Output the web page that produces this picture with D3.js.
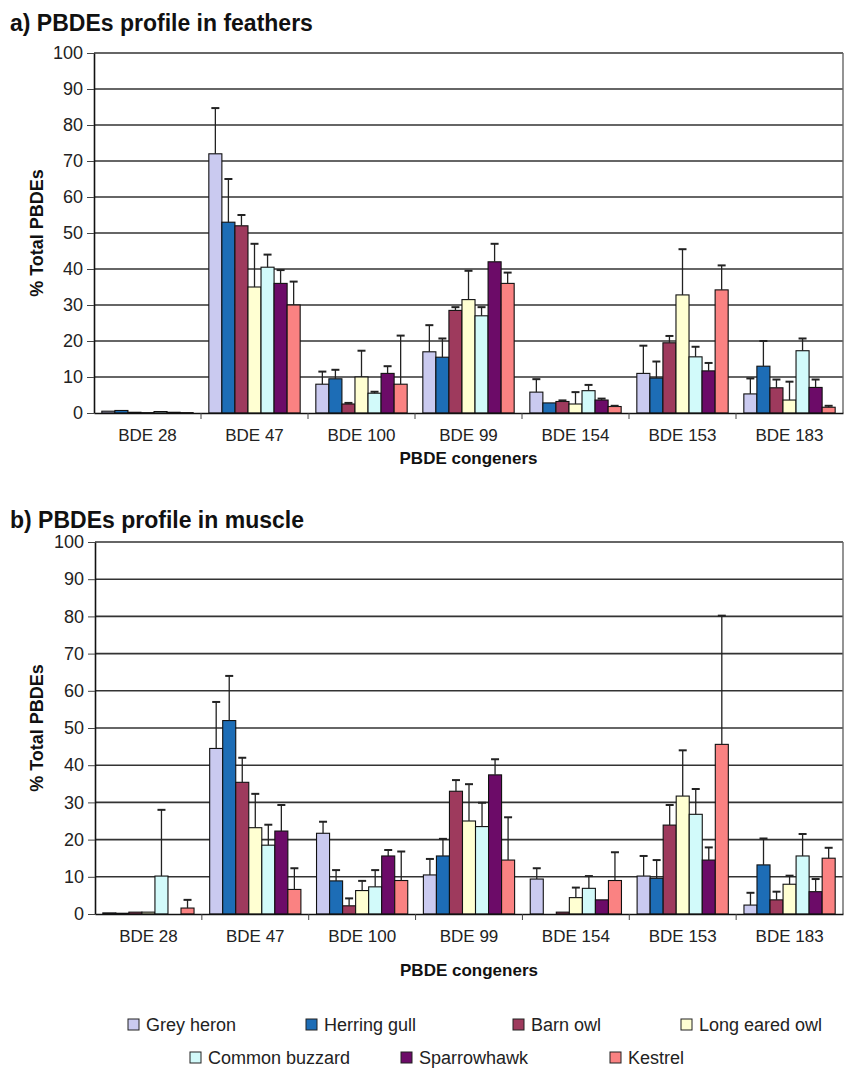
<!DOCTYPE html>
<html>
<head>
<meta charset="utf-8">
<script src="https://cdn.jsdelivr.net/npm/d3@7"></script>
<style>
  body { margin: 0; background: #fff; }
  svg { display: block; font-family: "Liberation Sans", Arial, sans-serif; }
</style>
</head>
<body>
<div id="chart"></div>
<script>
// congeners on the x axis, species are the bars in each group
var congeners = ["BDE 28", "BDE 47", "BDE 100", "BDE 99", "BDE 154", "BDE 153", "BDE 183"];
var species = ["Grey heron", "Herring gull", "Barn owl", "Long eared owl", "Common buzzard", "Sparrowhawk", "Kestrel"];
var yTicks = [0, 10, 20, 30, 40, 50, 60, 70, 80, 90, 100];

// a) feathers, one row per congener, one value per species (% total PBDEs)
var featherMean = [
    [0.5, 0.7, 0.2, 0.1, 0.4, 0.2, 0.1],
    [72, 53, 52, 35, 40.5, 36, 30],
    [8, 9.5, 2.5, 10, 5.5, 11, 8],
    [17, 15.5, 28.5, 31.5, 27, 42, 36],
    [5.8, 2.8, 3.2, 2.5, 6.2, 3.6, 1.8],
    [11, 9.7, 19.5, 32.8, 15.6, 11.7, 34.2],
    [5.3, 13, 7, 3.6, 17.3, 7.1, 1.6]
];
var featherErr = [
    [0, 0, 0, 0, 0, 0, 0],
    [12.7, 12, 3, 12, 3.5, 3.7, 6.5],
    [3.5, 2.5, 0.3, 7.3, 0.4, 2, 13.5],
    [7.4, 5.2, 0.9, 8, 2.4, 5, 3],
    [3.6, 0, 0.3, 3.3, 1.6, 0.4, 0.2],
    [7.7, 4.6, 1.9, 12.7, 2.8, 2.2, 6.8],
    [4.3, 7, 2.3, 5.1, 3.4, 2.2, 0.4]
];

// b) muscle
var muscleMean = [
    [0.3, 0.2, 0.5, 0.5, 10.2, 0, 1.6],
    [44.5, 52, 35.4, 23.2, 18.5, 22.3, 6.6],
    [21.7, 8.9, 2.2, 6.3, 7.3, 15.6, 9],
    [10.5, 15.6, 33, 25, 23.5, 37.4, 14.5],
    [9.4, 0, 0.5, 4.4, 6.9, 3.8, 9],
    [10.2, 9.6, 23.9, 31.7, 26.8, 14.5, 45.6],
    [2.4, 13.2, 3.8, 8, 15.6, 6, 15]
];
var muscleErr = [
    [0, 0, 0, 0, 17.8, 0, 2.2],
    [12.5, 12, 6.6, 9.1, 5.5, 7, 5.7],
    [3.1, 2.9, 2, 2.6, 4.5, 1.6, 7.8],
    [4.3, 4.6, 3, 9.9, 6.4, 4.2, 11.5],
    [2.9, 0, 0, 2.7, 3.3, 0, 7.6],
    [5.4, 4.9, 5.4, 12.3, 6.8, 3.4, 34.6],
    [3.3, 7.1, 2.2, 2.3, 5.9, 3.4, 2.8]
];

var colors = ["#cacaf0", "#1d6db6", "#9e3a5d", "#ffffd2", "#d2fafa", "#6c0b68", "#fa8282"];

var W = 844, H = 1068;
var svg = d3.select("#chart").append("svg")
    .attr("width", W)
    .attr("height", H);

var color = d3.scaleOrdinal().domain(species).range(colors);

function drawPanel(title, means, errs, box) {
    var g = svg.append("g");
    var x0 = d3.scaleBand().domain(congeners).range([box.left, box.right]);
    var x1 = d3.scaleBand().domain(species).range([0, x0.bandwidth()]).paddingOuter(0.6);
    var y = d3.scaleLinear().domain([0, 100]).range([box.bottom, box.top]);

    g.append("text")
        .attr("x", 10)
        .attr("y", box.titleY)
        .attr("font-size", 23)
        .attr("font-weight", "bold")
        .attr("fill", "#111")
        .text(title);

    // gridlines
    g.selectAll("line.grid")
        .data(yTicks.filter(function(t) { return t > 0; }))
        .enter().append("line")
        .attr("class", "grid")
        .attr("x1", box.left)
        .attr("x2", box.right)
        .attr("y1", function(d) { return y(d); })
        .attr("y2", function(d) { return y(d); })
        .attr("stroke", "#333")
        .attr("stroke-width", 1.6);
    g.append("line")
        .attr("x1", box.right).attr("x2", box.right)
        .attr("y1", box.top).attr("y2", box.bottom)
        .attr("stroke", "#666")
        .attr("stroke-width", 1.4);

    var groups = g.selectAll("g.grp")
        .data(congeners)
        .enter().append("g")
        .attr("class", "grp")
        .attr("transform", function(d) { return "translate(" + x0(d) + ",0)"; });

    groups.each(function(c, ci) {
        var rows = species.map(function(s, si) {
            return { s: s, v: means[ci][si], e: errs[ci][si] };
        });
        var sel = d3.select(this);
        sel.selectAll("rect")
            .data(rows)
            .enter().append("rect")
            .attr("x", function(d) { return x1(d.s); })
            .attr("y", function(d) { return y(d.v); })
            .attr("width", x1.bandwidth())
            .attr("height", function(d) { return y(0) - y(d.v); })
            .attr("fill", function(d) { return color(d.s); })
            .attr("stroke", "#111")
            .attr("stroke-width", 1.1);
        var eb = sel.selectAll("g.err")
            .data(rows.filter(function(d) { return d.e > 0; }))
            .enter().append("g")
            .attr("class", "err")
            .attr("stroke", "#222")
            .attr("stroke-width", 1.3);
        eb.append("line")
            .attr("x1", function(d) { return x1(d.s) + x1.bandwidth() / 2; })
            .attr("x2", function(d) { return x1(d.s) + x1.bandwidth() / 2; })
            .attr("y1", function(d) { return y(d.v); })
            .attr("y2", function(d) { return y(d.v + d.e); });
        eb.append("line")
            .attr("x1", function(d) { return x1(d.s) + x1.bandwidth() / 2 - 4; })
            .attr("x2", function(d) { return x1(d.s) + x1.bandwidth() / 2 + 4; })
            .attr("y1", function(d) { return y(d.v + d.e); })
            .attr("y2", function(d) { return y(d.v + d.e); })
            .attr("stroke-width", 2);
    });

    // y axis
    var yAxis = g.append("g")
        .attr("transform", "translate(" + box.left + ",0)")
        .call(d3.axisLeft(y).tickValues(yTicks).tickSize(7).tickPadding(4).tickSizeOuter(0));
    yAxis.select(".domain").attr("stroke", "#111").attr("stroke-width", 1.6);
    yAxis.selectAll(".tick line").attr("stroke", "#444");
    yAxis.selectAll("text")
        .attr("font-size", 18)
        .attr("font-family", "Liberation Sans, Arial, sans-serif")
        .attr("fill", "#222");

    // x axis
    var xAxis = g.append("g")
        .attr("transform", "translate(0," + box.bottom + ")")
        .call(d3.axisBottom(x0).tickSize(0).tickPadding(16).tickSizeOuter(0));
    xAxis.select(".domain").attr("stroke", "#111").attr("stroke-width", 1.6);
    xAxis.selectAll("text")
        .attr("font-size", 17)
        .attr("font-family", "Liberation Sans, Arial, sans-serif")
        .attr("fill", "#222");
    xAxis.selectAll("line.sep")
        .data(congeners.slice(1))
        .enter().append("line")
        .attr("class", "sep")
        .attr("x1", function(d) { return x0(d); })
        .attr("x2", function(d) { return x0(d); })
        .attr("y1", 0)
        .attr("y2", 6)
        .attr("stroke", "#444");

    g.append("text")
        .attr("x", (box.left + box.right) / 2)
        .attr("y", box.xTitleY)
        .attr("text-anchor", "middle")
        .attr("font-size", 17)
        .attr("font-weight", "bold")
        .attr("fill", "#111")
        .text("PBDE congeners");

    g.append("text")
        .attr("transform", "translate(43," + (box.top + box.bottom) / 2 + ")rotate(-90)")
        .attr("text-anchor", "middle")
        .attr("font-size", 18)
        .attr("font-weight", "bold")
        .attr("fill", "#111")
        .text("% Total PBDEs");
}

drawPanel("a) PBDEs profile in feathers", featherMean, featherErr,
    { left: 94, right: 843, top: 53, bottom: 413, titleY: 31, xTitleY: 464 });
drawPanel("b) PBDEs profile in muscle", muscleMean, muscleErr,
    { left: 95, right: 843, top: 542, bottom: 914, titleY: 528, xTitleY: 976 });

// legend, two rows as in the original
var legendPos = [
    [128, 1025], [306, 1025], [513, 1025], [681, 1025],
    [190, 1058], [401, 1058], [610, 1058]
];
var legend = svg.selectAll("g.legend")
    .data(species)
    .enter().append("g")
    .attr("class", "legend")
    .attr("transform", function(d, i) { return "translate(" + legendPos[i][0] + "," + legendPos[i][1] + ")"; });
legend.append("rect")
    .attr("x", 0)
    .attr("y", -6)
    .attr("width", 11)
    .attr("height", 11)
    .attr("fill", function(d) { return color(d); })
    .attr("stroke", "#222");
legend.append("text")
    .attr("x", 18)
    .attr("y", 6)
    .attr("font-size", 18)
    .attr("fill", "#222")
    .text(function(d) { return d; });
</script>
</body>
</html>
